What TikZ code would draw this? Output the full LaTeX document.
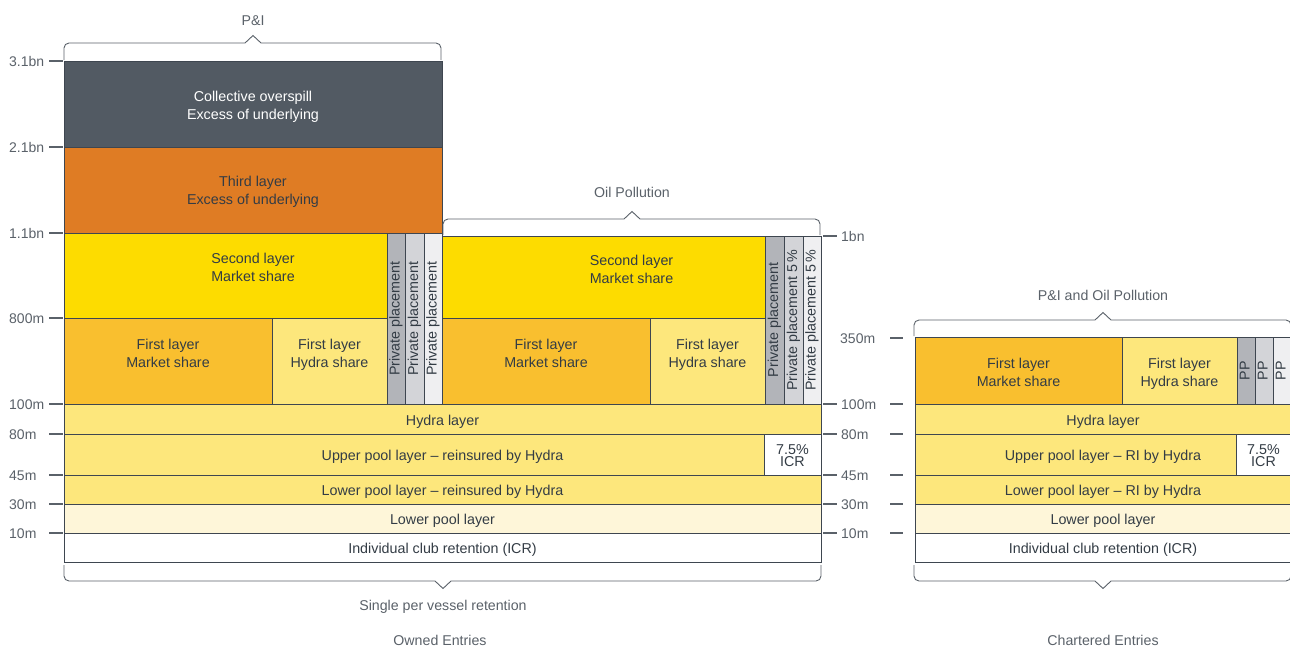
\documentclass[tikz,border=0pt]{standalone}
\usepackage{fontspec}
\setmainfont{Liberation Sans}
\definecolor{slate}{HTML}{525A63}
\definecolor{orng}{HTML}{DF7C24}
\definecolor{yel}{HTML}{FDDC00}
\definecolor{gold}{HTML}{F9BF2F}
\definecolor{pale}{HTML}{FDE77C}
\definecolor{cream}{HTML}{FEF6D9}
\definecolor{ppA}{HTML}{B2B4B9}
\definecolor{ppB}{HTML}{D3D4D8}
\definecolor{ppC}{HTML}{EFEFF1}
\definecolor{edge}{HTML}{3E4650}
\definecolor{txt}{HTML}{333C45}
\definecolor{lbl}{HTML}{5A6169}
\begin{document}
\begin{tikzpicture}[x=1pt,y=-1pt,
  cell/.style={draw=edge, line width=1pt},
  lab/.style={font=\fontsize{14.3}{18}\selectfont, text=txt, align=center, inner sep=0pt,
    execute at begin node=\strut, execute at end node=\strut},
  vlab/.style={lab, rotate=90},
  icr/.style={font=\fontsize{14.3}{12}\selectfont, text=txt, align=center, inner sep=0pt},
  ax/.style={font=\fontsize{14}{18}\selectfont, text=lbl, anchor=west, inner sep=0pt},
  head/.style={font=\fontsize{14.2}{18}\selectfont, text=lbl, inner sep=0pt},
  tick/.style={draw=lbl, line width=1.1pt},
  brace/.style={draw=lbl, line width=0.9pt}]
\useasboundingbox (0,0) rectangle (1290,649);

% ---------- Owned entries: P&I column ----------
\draw[cell, fill=slate] (64,61) rectangle (442,147);
\draw[cell, fill=orng] (64,147) rectangle (442,233);
\draw[cell, fill=yel] (64,233) rectangle (387,318);
\draw[cell, fill=ppA] (387,233) rectangle (405,404);
\draw[cell, fill=ppB] (405,233) rectangle (424,404);
\draw[cell, fill=ppC] (424,233) rectangle (442,404);
\draw[cell, fill=gold] (64,318) rectangle (272,404);
\draw[cell, fill=pale] (272,318) rectangle (387,404);

% ---------- Owned entries: Oil pollution column ----------
\draw[cell, fill=yel] (442,236) rectangle (765,318);
\draw[cell, fill=ppA] (765,236) rectangle (784,404);
\draw[cell, fill=ppB] (784,236) rectangle (803,404);
\draw[cell, fill=ppC] (803,236) rectangle (821,404);
\draw[cell, fill=gold] (442,318) rectangle (650,404);
\draw[cell, fill=pale] (650,318) rectangle (765,404);

% ---------- Owned entries: common layers ----------
\draw[cell, fill=pale] (64,404) rectangle (821,434);
\draw[cell, fill=pale] (64,434) rectangle (764,475);
\draw[cell, fill=white] (764,434) rectangle (821,475);
\draw[cell, fill=pale] (64,475) rectangle (821,504);
\draw[cell, fill=cream] (64,504) rectangle (821,533);
\draw[cell, fill=white] (64,533) rectangle (821,562);

% ---------- Chartered entries ----------
\draw[cell, fill=gold] (915,337) rectangle (1122,404);
\draw[cell, fill=pale] (1122,337) rectangle (1237,404);
\draw[cell, fill=ppA] (1237,337) rectangle (1255,404);
\draw[cell, fill=ppB] (1255,337) rectangle (1273,404);
\draw[cell, fill=ppC] (1273,337) rectangle (1291,404);
\draw[cell, fill=pale] (915,404) rectangle (1291,434);
\draw[cell, fill=pale] (915,434) rectangle (1236,475);
\draw[cell, fill=white] (1236,434) rectangle (1291,475);
\draw[cell, fill=pale] (915,475) rectangle (1291,504);
\draw[cell, fill=cream] (915,504) rectangle (1291,533);
\draw[cell, fill=white] (915,533) rectangle (1291,562);

% ---------- cell texts ----------
\node[lab, text=white] (co) at (253,108.5) {Collective overspill\\Excess of underlying};
\node[lab] (tl) at (253,193.5) {Third layer\\Excess of underlying};
\node[lab] (sl1) at (253,270.5) {Second layer\\Market share};
\node[vlab] (pa1) at (396,318.5) {Private placement};
\node[vlab] (pb1) at (414.5,318.5) {Private placement};
\node[vlab] (pc1) at (433,318.5) {Private placement};
\node[lab] (fm1) at (168,356.5) {First layer\\Market share};
\node[lab] (fh1) at (329.5,356.5) {First layer\\Hydra share};

\node[lab] (sl2) at (631.5,272.5) {Second layer\\Market share};
\node[vlab] (pa2) at (774.5,320) {Private placement};
\node[vlab] (pb2) at (793.5,320) {Private placement 5\,\%};
\node[vlab] (pc2) at (812,320) {Private placement 5\,\%};
\node[lab] (fm2) at (546,356.5) {First layer\\Market share};
\node[lab] (fh2) at (707.5,356.5) {First layer\\Hydra share};

\node[lab] (hy1) at (442.5,421.5) {Hydra layer};
\node[lab] (up1) at (442.5,456.5) {Upper pool layer -- reinsured by Hydra};
\node[icr] (ic1) at (792.5,456) {7.5\%\\ICR};
\node[lab] (lr1) at (442.5,492) {Lower pool layer -- reinsured by Hydra};
\node[lab] (lp1) at (442.5,521) {Lower pool layer};
\node[lab] (ir1) at (442.5,550) {Individual club retention (ICR)};

\node[lab] (fm3) at (1018.5,375.5) {First layer\\Market share};
\node[lab] (fh3) at (1179.5,375.5) {First layer\\Hydra share};
\node[vlab] (pa3) at (1246,370.5) {PP};
\node[vlab] (pb3) at (1264,370.5) {PP};
\node[vlab] (pc3) at (1282,370.5) {PP};
\node[lab] (hy3) at (1103,421.5) {Hydra layer};
\node[lab] (up3) at (1103,456.5) {Upper pool layer -- RI by Hydra};
\node[icr] (ic3) at (1263.5,456) {7.5\%\\ICR};
\node[lab] (lr3) at (1103,492) {Lower pool layer -- RI by Hydra};
\node[lab] (lp3) at (1103,521) {Lower pool layer};
\node[lab] (ir3) at (1103,550) {Individual club retention (ICR)};

% ---------- left axis ----------
\foreach \t/\y [count=\i] in {3.1bn/61,2.1bn/147,1.1bn/233,800m/318,100m/404,80m/434,45m/475,30m/504,10m/533}{
  \node[ax] (la\i) at (9,\y+0.5) {\t};
  \draw[tick] (49,\y) -- (63,\y);
}

% ---------- middle axis ----------
\node[ax] (ma1) at (841,236.5) {1bn};
\draw[tick] (823,236) -- (837,236);
\node[ax] (ma2) at (840,338.5) {350m};
\draw[tick] (890,338) -- (903,338);
\foreach \t/\y [count=\i from 3] in {100m/404,80m/434,45m/475,30m/504,10m/533}{
  \node[ax] (ma\i) at (841,\y+0.5) {\t};
  \draw[tick] (823,\y) -- (837,\y);
  \draw[tick] (890,\y) -- (903,\y);
}

% ---------- brackets ----------
\draw[brace] (64,60) [rounded corners=5pt] -- (64,43) -- (150,43) [sharp corners] -- (245,43) -- (253,35.5) -- (261,43) -- (340,43) [rounded corners=5pt] -- (441,43) -- (441,60);
\draw[brace] (443,235) [rounded corners=5pt] -- (443,219) -- (520,219) [sharp corners] -- (624,219) -- (632,211.5) -- (640,219) -- (720,219) [rounded corners=5pt] -- (820,219) -- (820,235);
\draw[brace] (914,336) [rounded corners=5pt] -- (914,320) -- (1000,320) [sharp corners] -- (1095,320) -- (1103,312.5) -- (1111,320) -- (1200,320) [rounded corners=5pt] -- (1291,320) -- (1291,336);
\draw[brace] (64,565) [rounded corners=5pt] -- (64,581) -- (150,581) [sharp corners] -- (435,581) -- (443,588.5) -- (451,581) -- (700,581) [rounded corners=5pt] -- (821,581) -- (821,565);
\draw[brace] (914,565) [rounded corners=5pt] -- (914,581) -- (1000,581) [sharp corners] -- (1095,581) -- (1103,588.5) -- (1111,581) -- (1200,581) [rounded corners=5pt] -- (1291,581) -- (1291,565);

% ---------- headings ----------
\node[head] (hPI) at (253,21) {P\&I};
\node[head] (hOP) at (632,192.5) {Oil Pollution};
\node[head] (hPO) at (1103,295.5) {P\&I and Oil Pollution};
\node[head] (hSV) at (443,606.5) {Single per vessel retention};
\node[head] (hOE) at (440,640.5) {Owned Entries};
\node[head] (hCE) at (1103,640.5) {Chartered Entries};
\end{tikzpicture}
\end{document}
